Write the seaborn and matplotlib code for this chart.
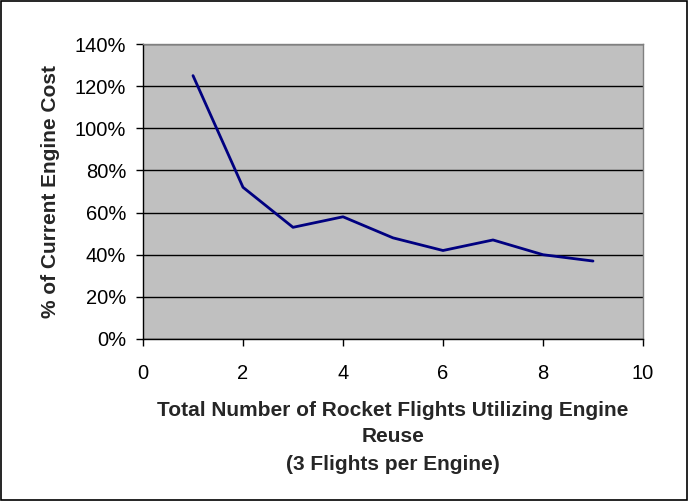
import matplotlib
matplotlib.use("Agg")
import matplotlib.pyplot as plt
import seaborn as sns
import pandas as pd
from matplotlib.ticker import FuncFormatter, MultipleLocator
from matplotlib.patches import Rectangle

flights = [1, 2, 3, 4, 5, 6, 7, 8, 9]
cost_pct = [125, 72, 53, 58, 48, 42, 47, 40, 37]

df = pd.DataFrame({"flights": flights, "cost": cost_pct})

sns.set_style("white")
plt.rcParams['font.family'] = ['Liberation Sans', 'DejaVu Sans']

fig = plt.figure(figsize=(6.88, 5.01), dpi=100)
ax = fig.add_axes([143/688, 1-339/501, 500/688, 295/501])
ax.set_facecolor("#C0C0C0")

sns.lineplot(data=df, x="flights", y="cost", ax=ax, color="#000080", linewidth=2.0)

ax.set_xlim(0, 10)
ax.set_ylim(0, 140)
ax.xaxis.set_major_locator(MultipleLocator(2))
ax.yaxis.set_major_locator(MultipleLocator(20))
ax.yaxis.set_major_formatter(FuncFormatter(lambda v, p: f"{int(v)}%"))
ax.grid(axis="y", color="black", linewidth=1.0)
ax.grid(axis="x", visible=False)
ax.set_axisbelow(True)

for s in ["top", "right"]:
    ax.spines[s].set_color("#808080")
    ax.spines[s].set_linewidth(1.0)
for s in ["left", "bottom"]:
    ax.spines[s].set_color("black")
    ax.spines[s].set_linewidth(1.0)

ax.tick_params(axis="both", which="major", direction="out", length=5, width=1,
               color="black", labelsize=14.5, labelcolor="black", bottom=True, left=True)
ax.tick_params(axis="x", pad=13)
ax.tick_params(axis="y", pad=7)

ax.set_xlabel("")
ax.set_ylabel("")
fig.text(51/688, 1-192/501, "% of Current Engine Cost", rotation=90,
         ha="center", va="center", fontsize=15, fontweight="bold")
fig.text(393/688, 1-410/501, "Total Number of Rocket Flights Utilizing Engine",
         ha="center", va="center", fontsize=15, fontweight="bold")
fig.text(393/688, 1-437/501, "Reuse",
         ha="center", va="center", fontsize=15, fontweight="bold")
fig.text(393/688, 1-465/501, "(3 Flights per Engine)",
         ha="center", va="center", fontsize=15, fontweight="bold")

fig.patches.append(Rectangle((1/688, 1/501), 686/688, 499/501, transform=fig.transFigure,
                             fill=False, edgecolor="black", linewidth=1.2))

fig.savefig("out.png", dpi=100)
